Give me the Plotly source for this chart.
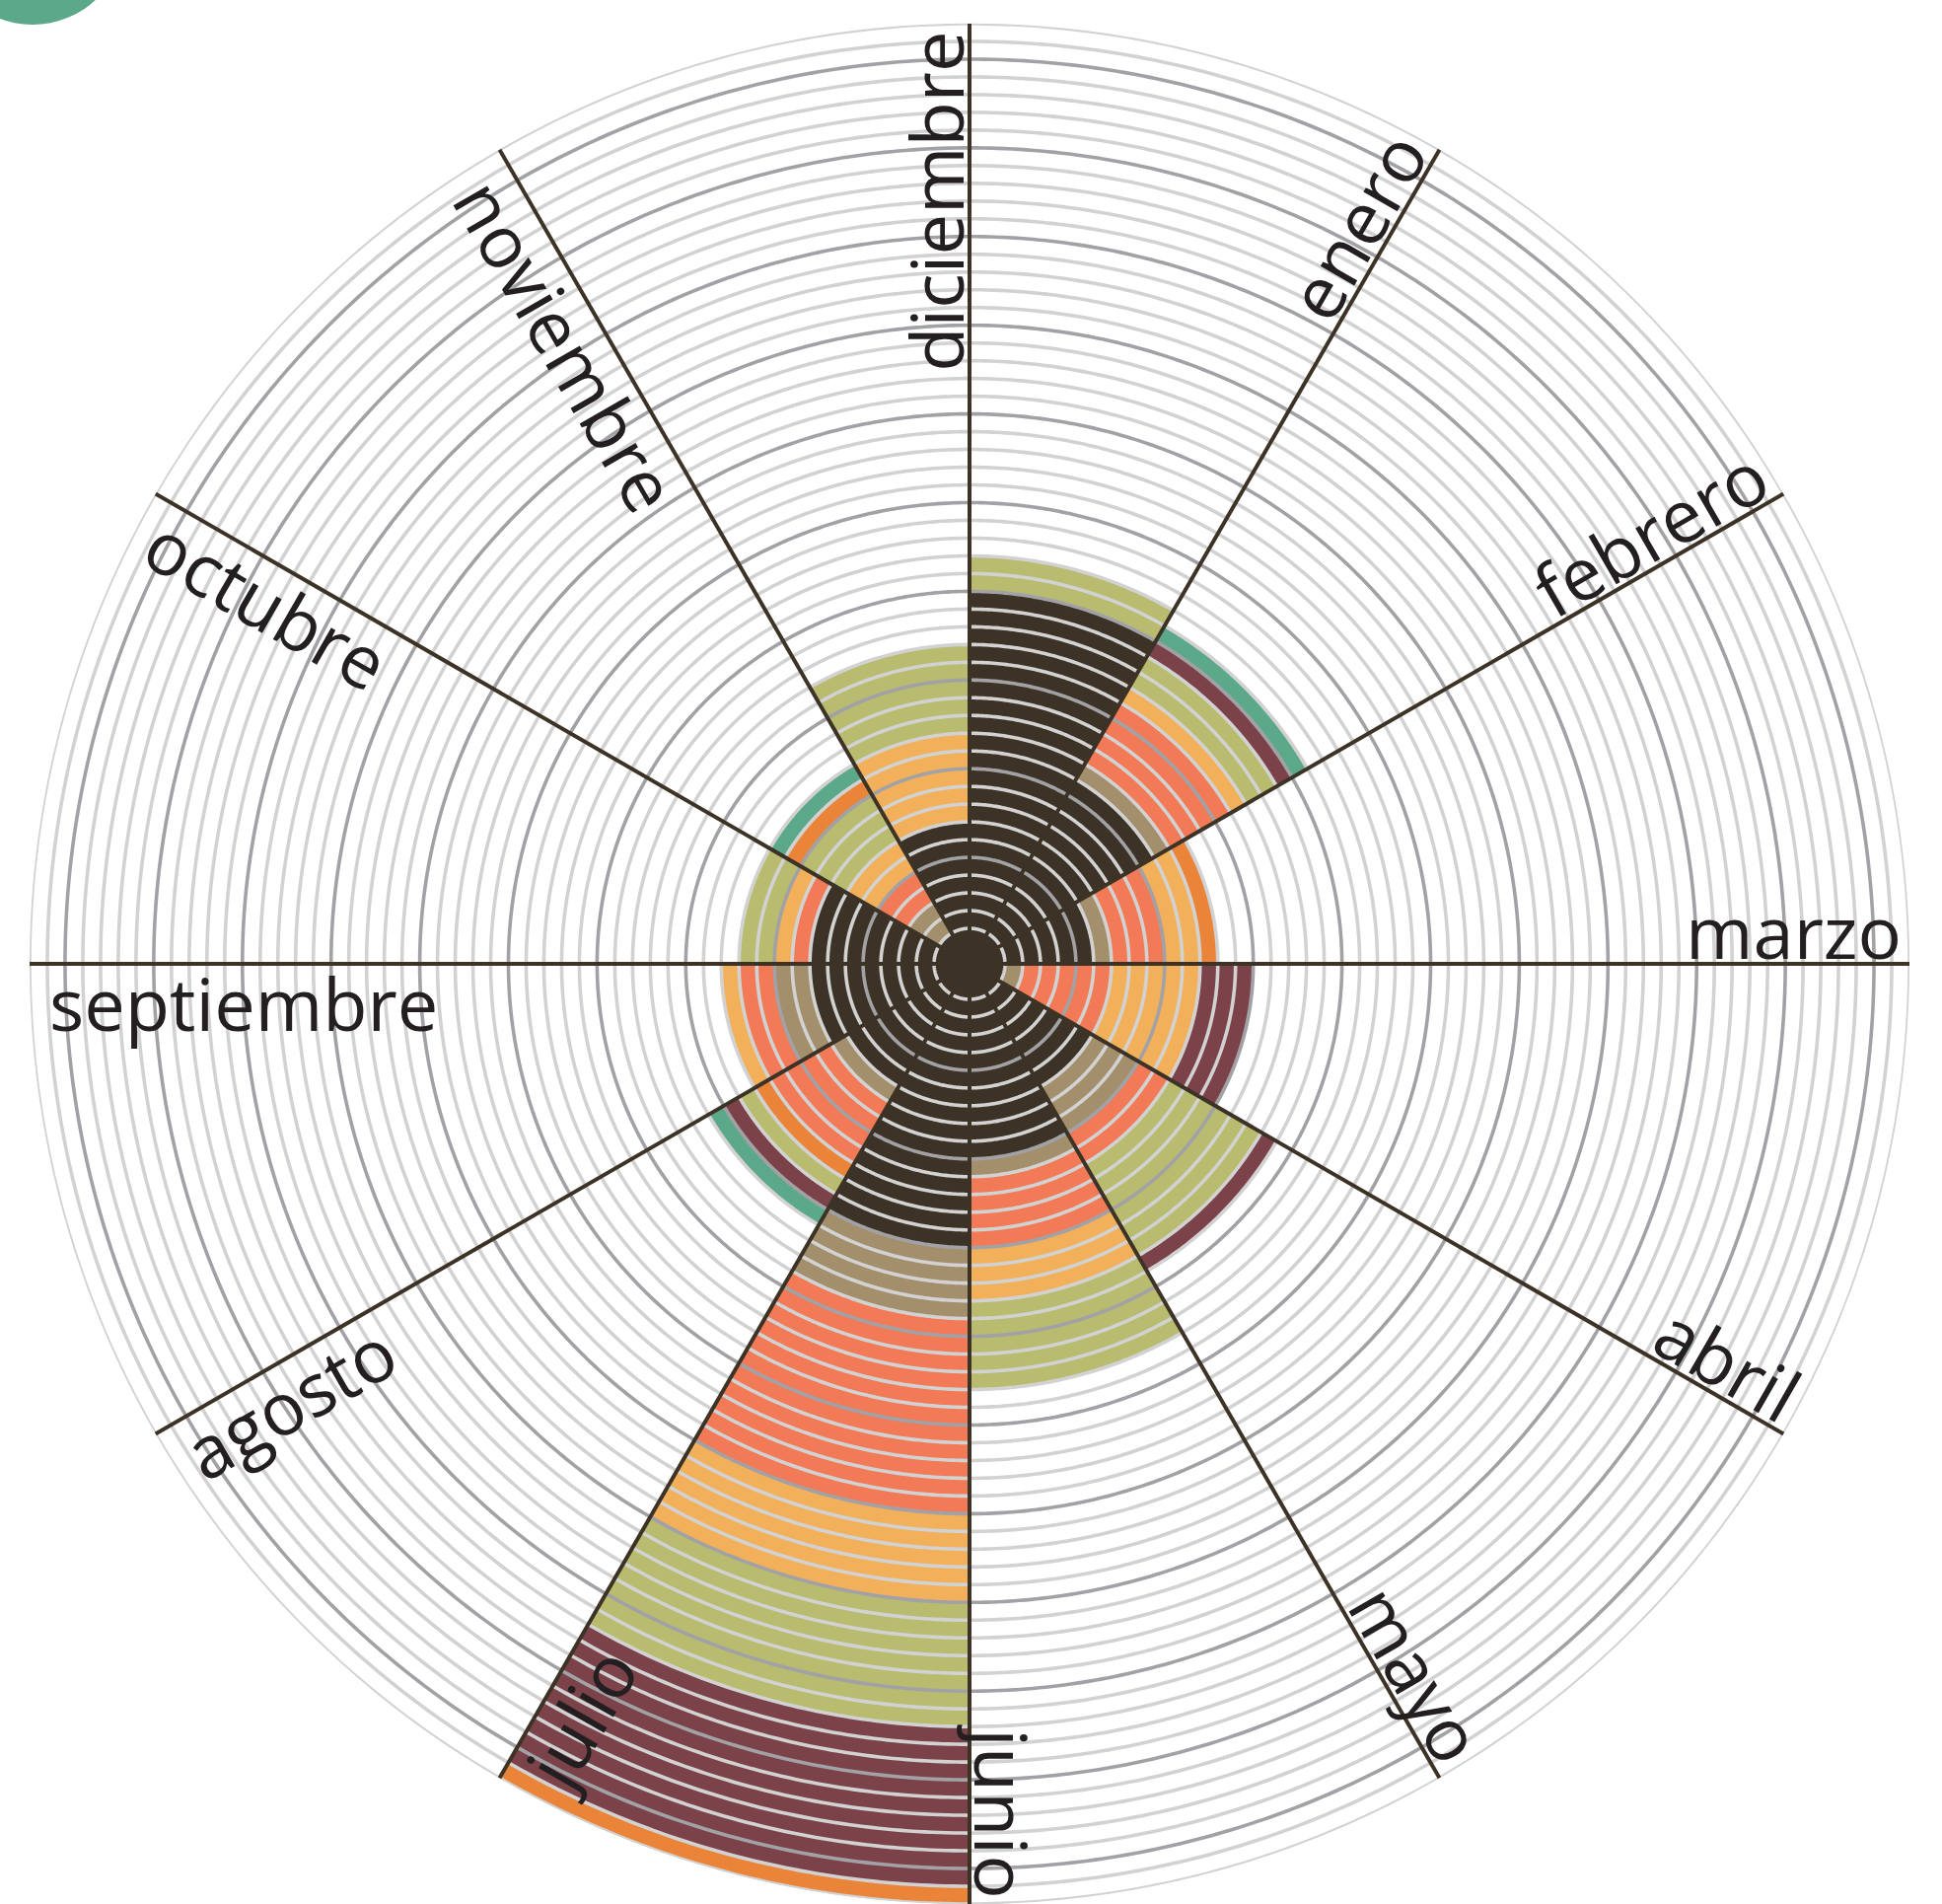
import math
import plotly.graph_objects as go

# ---------------- data ----------------
months = ["enero", "febrero", "marzo", "abril", "mayo", "junio",
          "julio", "agosto", "septiembre", "octubre", "noviembre", "diciembre"]

# units per month for each category (stacked from the centre outwards)
oscuro  = [20, 11, 6, 1, 7, 10, 15, 7, 8, 8, 1, 7]
taupe   = [0, 1, 1, 1, 3, 1, 4, 1, 2, 0, 2, 0]
salmon  = [0, 4, 3, 5, 2, 4, 11, 4, 2, 1, 2, 0]
ambar   = [0, 1, 2, 5, 0, 3, 5, 0, 1, 1, 2, 5]
oliva   = [2, 2, 0, 0, 6, 5, 7, 1, 0, 2, 3, 5]
granate = [0, 1, 0, 3, 1, 0, 9, 1, 0, 0, 0, 0]
naranja = [0, 0, 1, 0, 0, 0, 1, 1, 0, 0, 1, 0]
verde   = [0, 1, 0, 0, 0, 0, 0, 1, 0, 0, 1, 0]

categories = ["oscuro", "taupe", "salmon", "ambar", "oliva", "granate", "naranja", "verde"]
values = {"oscuro": oscuro, "taupe": taupe, "salmon": salmon, "ambar": ambar,
          "oliva": oliva, "granate": granate, "naranja": naranja, "verde": verde}
colors = {"oscuro": "#3c3326", "taupe": "#a48f6c", "salmon": "#f27a57", "ambar": "#f2b05b",
          "oliva": "#b9bb6f", "granate": "#7b4249", "naranja": "#ea8439", "verde": "#5ca98a"}

default_order = categories
order_override = {"agosto": ["oscuro", "taupe", "salmon", "naranja", "oliva", "granate", "verde"]}

HOLE = 1          # centre disc, in units
RMAX = 53         # outer ring (units incl. centre)

# ---------------- geometry ----------------
W, H = 1969, 1930
CX, CY, R = 983, 977, 953
theta_centers = [15 + 30 * i for i in range(12)]

# bases per category/month
bases = {c: [0] * 12 for c in categories}
for i, m in enumerate(months):
    acc = HOLE
    for c in order_override.get(m, default_order):
        bases[c][i] = acc
        acc += values[c][i]

fig = go.Figure()

# centre disc (slightly overlapping the first ring so no seam shows)
fig.add_trace(go.Barpolar(r=[HOLE + 0.6] * 12, base=[0] * 12, theta=theta_centers, width=[30] * 12,
                          marker=dict(color=colors["oscuro"], line=dict(width=0)),
                          hoverinfo="skip", showlegend=False))

for c in categories:
    fig.add_trace(go.Barpolar(r=values[c], base=bases[c], theta=theta_centers, width=[30] * 12,
                              marker=dict(color=colors[c], line=dict(width=0)),
                              name=c, showlegend=False))

# ring grid drawn over the bars
circle_theta = [t * 0.5 for t in range(721)]
for v in range(1, RMAX - HOLE + 1):
    col = "#a2a2a6" if v % 5 == 0 else "#d2d2d2"
    fig.add_trace(go.Scatterpolar(r=[v + HOLE] * len(circle_theta), theta=circle_theta,
                                  mode="lines", line=dict(color=col, width=3.6),
                                  hoverinfo="skip", showlegend=False))

# spokes
for j in range(12):
    fig.add_trace(go.Scatterpolar(r=[0, RMAX], theta=[30 * j, 30 * j], mode="lines",
                                  line=dict(color="#3c3326", width=4),
                                  hoverinfo="skip", showlegend=False))

# ---------------- labels ----------------
FONT_SIZE = 74
adv = {"a": .556, "b": .613, "c": .479, "d": .613, "e": .561, "f": .336, "g": .544, "i": .258,
       "j": .258, "l": .258, "m": .94, "n": .615, "o": .601, "p": .613, "r": .411, "s": .477,
       "t": .352, "u": .615, "v": .5, "y": .5, "z": .473}
annotations = []
for i, m in enumerate(months):
    a = 90 - 30 * (i + 1)
    while a <= -180:
        a += 360
    while a > 180:
        a -= 360
    outward = -90 <= a <= 90
    L = sum(adv.get(ch, .55) for ch in m) * FONT_SIZE
    if outward:
        tang = -a
        d = 34
        r_mid = 946 - L / 2
    else:
        tang = 180 - a
        while tang > 180:
            tang -= 360
        d = 40
        r_mid = 934 - L / 2
    ar = math.radians(a)
    nr = math.radians(a + 90)
    px = CX + r_mid * math.cos(ar) + d * math.cos(nr)
    py = CY - (r_mid * math.sin(ar) + d * math.sin(nr))
    annotations.append(dict(text=m, x=px / W, y=1 - py / H, xref="paper", yref="paper",
                            xanchor="center", yanchor="middle", showarrow=False,
                            textangle=tang,
                            font=dict(family="Open Sans", size=FONT_SIZE, color="#231f20")))

fig.update_layout(
    width=W, height=H,
    margin=dict(l=0, r=0, t=0, b=0),
    paper_bgcolor="white",
    polar=dict(
        domain=dict(x=[(CX - R) / W, (CX + R) / W], y=[0, 2 * R / H]),
        bgcolor="white",
        hole=0,
        barmode="overlay",
        radialaxis=dict(range=[0, RMAX], visible=False, showgrid=False),
        angularaxis=dict(direction="clockwise", rotation=90, visible=False,
                         showgrid=False, showline=False, showticklabels=False, ticks=""),
    ),
    annotations=annotations,
    shapes=[dict(type="circle", xref="paper", yref="paper",
                 x0=(33 - 94) / W, x1=(33 + 94) / W,
                 y0=1 - (-69 + 94) / H, y1=1 - (-69 - 94) / H,
                 fillcolor="#5ca98a", line=dict(width=0))],
)

fig.write_html("out.html", config={"displayModeBar": False},
               post_script="document.body.style.margin='0';document.body.style.overflow='hidden';")
